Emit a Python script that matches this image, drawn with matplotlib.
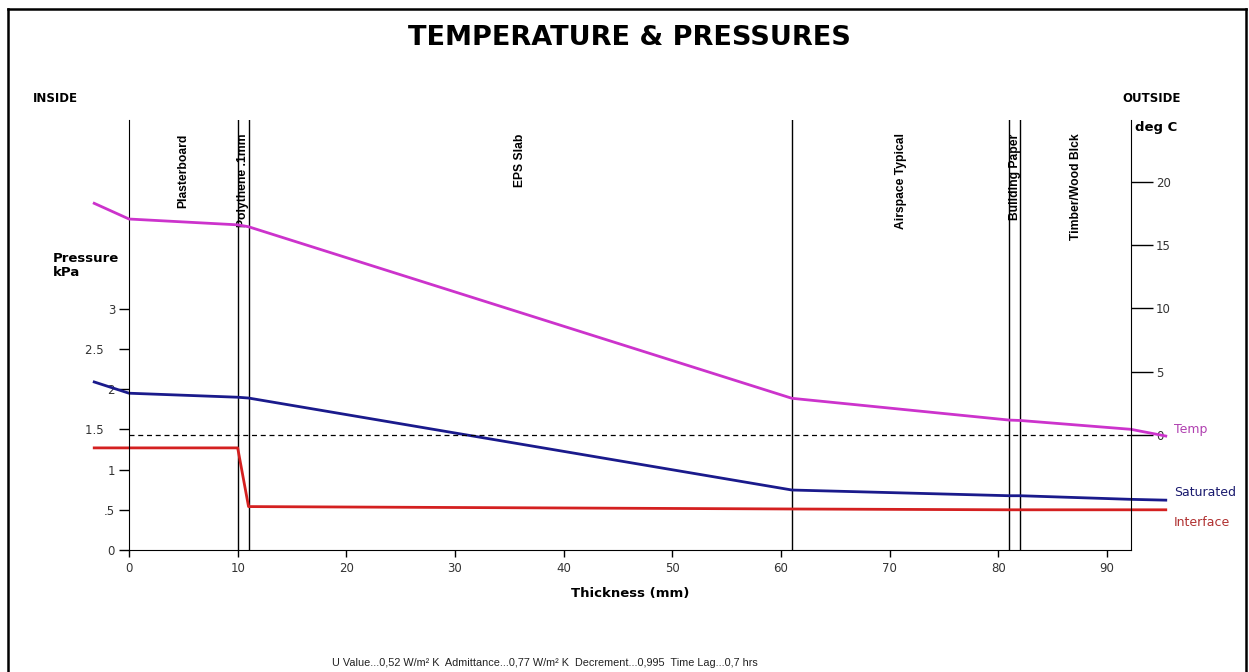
import matplotlib
matplotlib.use("Agg")
import matplotlib.pyplot as plt
from matplotlib.lines import Line2D

# layer boundaries (mm) and names
bounds = [0, 10, 11, 61, 81, 82, 92.2]
layers = ["Plasterboard", "Polythene .1mm", "EPS Slab", "Airspace Typical",
          "Building Paper", "Timber/Wood Blck"]

# profile points through the wall (mm); first/last are inside/outside air
xs = [-3.2, 0, 10, 11, 61, 81, 82, 92.2, 95.4]
temp = [18.3, 17.06, 16.6, 16.45, 2.9, 1.18, 1.15, 0.45, -0.08]
saturated = [2.09, 1.95, 1.90, 1.89, 0.746, 0.675, 0.675, 0.63, 0.62]
xs_int = [-3.2, 10, 11, 61, 81, 95.4]
interface = [1.27, 1.27, 0.54, 0.51, 0.50, 0.50]

p_ticks = [0, 0.5, 1, 1.5, 2, 2.5, 3]
p_labels = ["0", ".5", "1", "1.5   ", "2", "2.5   ", "3"]
t_ticks = [0, 5, 10, 15, 20]
x_ticks = list(range(0, 100, 10))

plt.rcParams['font.family'] = ['DejaVu Sans']
W, H = 1249, 672
fig = plt.figure(figsize=(W / 100, H / 100), dpi=100)


def fx(x):
    return x / W


def fy(y):
    return 1 - y / H


# outer frame
fig.add_artist(Line2D([fx(8), fx(8)], [fy(9), fy(700)], color="black", lw=1.8))
fig.add_artist(Line2D([fx(8), fx(1246)], [fy(9), fy(9)], color="black", lw=1.8))
fig.add_artist(Line2D([fx(1246), fx(1246)], [fy(9), fy(700)], color="black", lw=1.8))

ax = fig.add_axes([fx(129), fy(550), fx(1131) - fx(129), fy(120) - fy(550)])
ax.set_xlim(0, 92.2)
ax.set_ylim(0, 5.348)
ax2 = ax.twinx()
ax2.set_ylim(-9.08, 24.88)

for a in (ax, ax2):
    a.spines['top'].set_visible(False)
    a.patch.set_visible(False)
ax.spines['right'].set_visible(False)
ax2.spines['left'].set_visible(False)
ax2.spines['bottom'].set_visible(False)

ax.set_yticks(p_ticks)
ax.set_yticklabels(p_labels)
ax.set_xticks(x_ticks)
ax.tick_params(axis='y', length=7, width=1, labelsize=8.5, labelcolor="#333333", pad=3)
ax.tick_params(axis='x', length=5, width=1, labelsize=8.5, labelcolor="#333333", pad=4)
ax2.set_yticks(t_ticks)
ax2.tick_params(axis='y', length=16, width=1, labelsize=8.5, labelcolor="#333333", pad=2)

for b in bounds[1:-1]:
    ax.axvline(b, color="black", lw=1)

# layer names
for i, name in enumerate(layers):
    mid = (bounds[i] + bounds[i + 1]) / 2
    ax.text(mid, 0.969, name, transform=ax.get_xaxis_transform(), rotation=90,
            ha="center", va="top", fontsize=8.7, fontweight="bold",
            family=['Liberation Sans Narrow', 'Liberation Sans'])

# 0 deg dashed reference
ax2.plot([0, 92.2], [0, 0], color="black", lw=0.9, ls=(0, (4, 3)))

ax2.plot(xs, temp, color="#cc33cc", lw=2, clip_on=False)
ax.plot(xs, saturated, color="#1a1a8c", lw=2, clip_on=False)
ax.plot(xs_int, interface, color="#d42020", lw=2, clip_on=False)

ax.set_xlabel("Thickness (mm)", fontsize=9.5, fontweight="bold", labelpad=8)

fig.text(fx(629), fy(38), "TEMPERATURE & PRESSURES", ha="center", va="center",
         fontsize=19.5, fontweight="bold")
fig.text(fx(33), fy(98), "INSIDE", ha="left", va="center", fontsize=8.5, fontweight="bold")
fig.text(fx(1122), fy(98), "OUTSIDE", ha="left", va="center", fontsize=8.5, fontweight="bold")
fig.text(fx(1135), fy(128), "deg C", ha="left", va="center", fontsize=9.5, fontweight="bold")
fig.text(fx(53), fy(258), "Pressure", ha="left", va="center", fontsize=9.5, fontweight="bold")
fig.text(fx(53), fy(273), "kPa", ha="left", va="center", fontsize=9.5, fontweight="bold")

fig.text(fx(1174), fy(430), "Temp", ha="left", va="center", fontsize=9, color="#b040b0")
fig.text(fx(1174), fy(493), "Saturated", ha="left", va="center", fontsize=9, color="#1a1a6e")
fig.text(fx(1174), fy(523), "Interface", ha="left", va="center", fontsize=9, color="#b03030")

fig.text(fx(545), fy(663), "U Value...0,52 W/m² K  Admittance...0,77 W/m² K  Decrement...0,995  Time Lag...0,7 hrs",
         ha="center", va="center", fontsize=7.8, color="#222222",
         family=['Liberation Sans', 'DejaVu Sans'])

fig.savefig("out.png", dpi=100)
